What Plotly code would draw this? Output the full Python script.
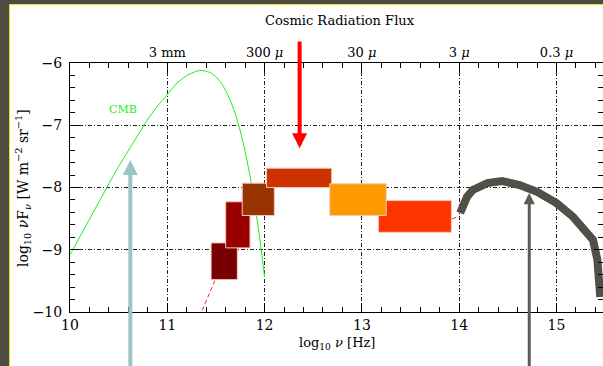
import plotly.graph_objects as go

# ---------------- data ----------------
cmb_logv = [10.0, 10.1, 10.2, 10.3, 10.4, 10.5, 10.6, 10.7, 10.8, 10.9, 11.0, 11.1, 11.2,
            11.3, 11.35, 11.4, 11.45, 11.5, 11.55, 11.6, 11.65, 11.7, 11.75, 11.8, 11.85,
            11.9, 11.95, 12.0]
cmb_flux = [-9.08, -8.79, -8.50, -8.21, -7.94, -7.66, -7.40, -7.14, -6.90, -6.69, -6.50,
            -6.32, -6.20, -6.13, -6.12, -6.13, -6.16, -6.22, -6.31, -6.44, -6.61, -6.82,
            -7.09, -7.42, -7.81, -8.27, -8.81, -9.44]

# infrared / far-IR background boxes (log nu range, log flux range)
box_x0 = [11.45, 11.60, 11.77, 12.02, 13.17, 12.67]
box_x1 = [11.72, 11.85, 12.10, 12.69, 13.92, 13.25]
box_y0 = [-9.48, -8.97, -8.45, -8.00, -8.72, -8.45]
box_y1 = [-8.89, -8.23, -7.93, -7.69, -8.21, -7.94]
box_colors = ["#780000", "#990000", "#993300", "#cc3300", "#ff3300", "#ff9900"]

# optical background (thick grey)
opt_logv = [14.01, 14.08, 14.14, 14.29, 14.44, 14.62, 14.80, 15.00, 15.17, 15.31, 15.375,
            15.42, 15.44, 15.45]
opt_flux = [-8.41, -8.15, -8.04, -7.93, -7.895, -7.96, -8.07, -8.25, -8.47, -8.71, -8.84,
            -9.16, -9.69, -9.76]

# dashed red extensions
dash1_logv = [11.36, 11.49]
dash1_flux = [-9.97, -9.49]
dash2_logv = [13.92, 13.97]
dash2_flux = [-8.51, -8.48]

# top axis wavelength labels
top_tickvals = [11, 12, 13, 14, 15]
top_ticktext = ["3 mm", "300 <i>μ</i>", "30 <i>μ</i>", "3 <i>μ</i>", "0.3 <i>μ</i>"]

# arrows: tip x, tip y, tail y, colour, width
arrow_tip_x = [10.62, 12.36, 14.72]
arrow_tip_y = [-7.56, -7.37, -8.09]
arrow_tail_y = [-10.9, -5.63, -10.9]
arrow_colors = ["#9cc4c4", "#ff0000", "#5c5c54"]
arrow_widths = [4, 4, 3]

XR = [10, 15.478]
YR = [-10, -6]
FONT = "DejaVu Serif"

fig = go.Figure()

# CMB
fig.add_trace(go.Scatter(x=cmb_logv, y=cmb_flux, mode="lines",
                         line=dict(color="#22ee22", width=1), hoverinfo="skip"))
# dashed lines
fig.add_trace(go.Scatter(x=dash1_logv, y=dash1_flux, mode="lines",
                         line=dict(color="#ff2222", width=1, dash="4px,3px"), hoverinfo="skip"))
fig.add_trace(go.Scatter(x=dash2_logv, y=dash2_flux, mode="lines",
                         line=dict(color="#ff2222", width=1), hoverinfo="skip"))
# boxes
for x0, x1, y0, y1, c in zip(box_x0, box_x1, box_y0, box_y1, box_colors):
    fig.add_trace(go.Scatter(x=[x0, x1, x1, x0, x0], y=[y0, y0, y1, y1, y0],
                             mode="lines", fill="toself", fillcolor=c,
                             line=dict(color="#f6c8bc", width=1), hoverinfo="skip"))
# optical
fig.add_trace(go.Scatter(x=opt_logv, y=opt_flux, mode="lines",
                         line=dict(color="#505048", width=8), hoverinfo="skip"))

fig.add_trace(go.Scatter(x=[None], y=[None], xaxis="x2", showlegend=False))
fig.add_trace(go.Scatter(x=[None], y=[None], yaxis="y2", showlegend=False))

for tx, ty, tly, c, w in zip(arrow_tip_x, arrow_tip_y, arrow_tail_y, arrow_colors, arrow_widths):
    fig.add_annotation(x=tx, y=ty, ax=tx, ay=tly, xref="x", yref="y", axref="x", ayref="y",
                       text="", showarrow=True, arrowhead=2, arrowsize=0.75,
                       arrowwidth=w, arrowcolor=c)

fig.add_annotation(x=10.545, y=-6.74, xref="x", yref="y", text="CMB", showarrow=False,
                   xanchor="center", yanchor="middle",
                   font=dict(family=FONT, size=11, color="#22ee22"))

# axis titles and main title
fig.add_annotation(x=(23 - 70) / 533, y=(312 - 188) / 249, xref="paper", yref="paper",
                   textangle=-90, xanchor="center", yanchor="middle",
                   text="log<sub>10</sub> <i>ν</i>F<sub><i>ν</i></sub> [W m<sup>−2</sup> sr<sup>−1</sup>]",
                   showarrow=False, font=dict(family=FONT, size=14, color="black"))
fig.add_annotation(x=(337 - 70) / 533, y=(312 - 343) / 249, xref="paper", yref="paper",
                   xanchor="center", yanchor="middle",
                   text="log<sub>10</sub> <i>ν</i> [Hz]", showarrow=False,
                   font=dict(family=FONT, size=13, color="black"))
fig.add_annotation(x=(340 - 70) / 533, y=(312 - 21) / 249, xref="paper", yref="paper",
                   xanchor="center", yanchor="middle",
                   text="Cosmic Radiation Flux", showarrow=False,
                   font=dict(family=FONT, size=13, color="black"))

# background frame
fig.add_shape(type="rect", xref="paper", yref="paper", layer="below",
              x0=(9.5 - 70) / 533, x1=1.2, y0=-0.5, y1=(312 - 4.5) / 249,
              fillcolor="white", line=dict(color="#e8e020", width=1))

griddash = "4px,2px,1px,2px"
fig.update_layout(
    width=603, height=366,
    margin=dict(l=70, r=0, t=63, b=54),
    paper_bgcolor="#4c4c40", plot_bgcolor="white",
    showlegend=False,
    font=dict(family=FONT, size=14, color="black"),
    xaxis=dict(range=XR, tickvals=[10, 11, 12, 13, 14, 15], ticks="inside", ticklen=9,
               tickcolor="black", showline=True, linecolor="black", linewidth=1,
               showgrid=True, gridcolor="#222", griddash=griddash, gridwidth=1,
               zeroline=False, tickfont=dict(family=FONT, size=14),
               minor=dict(dtick=0.2, ticks="inside", ticklen=5, tickcolor="black", showgrid=False)),
    xaxis2=dict(range=XR, overlaying="x", side="top", tickvals=top_tickvals,
                ticktext=top_ticktext, ticks="inside", ticklen=9, tickcolor="black",
                showline=True, linecolor="black", linewidth=1, showgrid=False,
                zeroline=False, tickfont=dict(family=FONT, size=13),
                minor=dict(dtick=0.2, ticks="inside", ticklen=5, tickcolor="black")),
    yaxis=dict(range=YR, dtick=1, ticks="inside", ticklen=9, tickcolor="black",
               showline=True, linecolor="black", linewidth=1,
               showgrid=True, gridcolor="#222", griddash=griddash, gridwidth=1,
               zeroline=False, tickfont=dict(family=FONT, size=14), ticklabelstandoff=4,
               minor=dict(dtick=0.2, ticks="inside", ticklen=5, tickcolor="black", showgrid=False)),
    yaxis2=dict(range=YR, overlaying="y", side="right", dtick=1, ticks="inside", ticklen=9,
                tickcolor="black", showline=False, showgrid=False, zeroline=False,
                showticklabels=False,
                minor=dict(dtick=0.2, ticks="inside", ticklen=5, tickcolor="black")),
)

fig.write_html("out.html", config={"displayModeBar": False},
               post_script="document.body.style.margin='0';")
